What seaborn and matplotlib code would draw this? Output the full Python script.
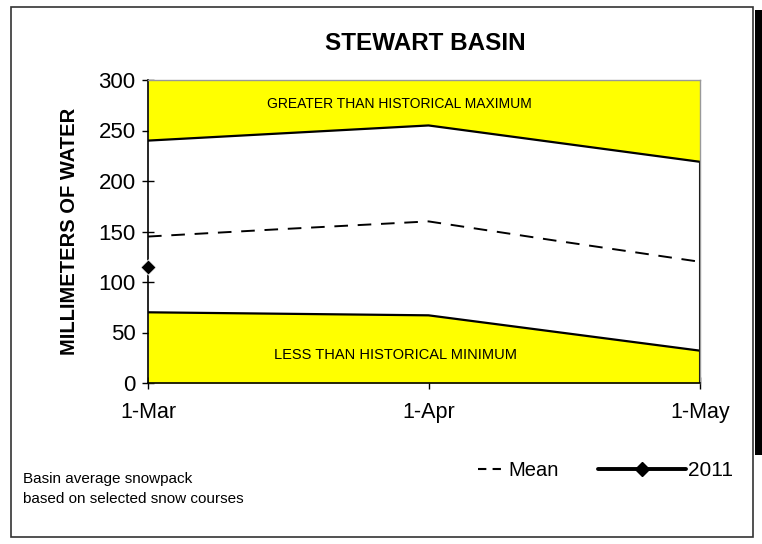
import matplotlib
matplotlib.use('Agg')
import matplotlib.pyplot as plt
import matplotlib.patches as mpatches
from matplotlib.lines import Line2D
import seaborn as sns
import pandas as pd

sns.set_style('white')
plt.rcParams['font.family'] = ['Liberation Sans', 'DejaVu Sans']
plt.rcParams['text.color'] = 'black'
plt.rcParams['axes.labelcolor'] = 'black'

# 数据 (days since 1-Mar)
tick_days = [0, 31, 61]
tick_labels = ['1-Mar', '1-Apr', '1-May']
hist_max = [240, 255, 219]
hist_min = [70, 67, 32]
mean_days = [0, 14, 31, 45, 61]
mean_vals = [145, 152, 160, 141, 120]
obs_days = [0]
obs_vals = [115]

fig = plt.figure(figsize=(7.62, 5.44), dpi=100)
ax = fig.add_axes([148 / 762, 1 - 383 / 544, (700 - 148) / 762, (383 - 80) / 544])

# yellow areas outside historical range
ax.fill_between(tick_days, hist_max, 300, color='#FFFF00', lw=0)
ax.fill_between(tick_days, 0, hist_min, color='#FFFF00', lw=0)

df_max = pd.DataFrame({'day': tick_days, 'val': hist_max})
df_min = pd.DataFrame({'day': tick_days, 'val': hist_min})
df_mean = pd.DataFrame({'day': mean_days, 'val': mean_vals})
df_obs = pd.DataFrame({'day': obs_days, 'val': obs_vals})

sns.lineplot(data=df_max, x='day', y='val', ax=ax, color='black', lw=1.6)
sns.lineplot(data=df_min, x='day', y='val', ax=ax, color='black', lw=1.6)
sns.lineplot(data=df_mean, x='day', y='val', ax=ax, color='black', lw=1.4,
             linestyle=(0, (7, 5)))
sns.scatterplot(data=df_obs, x='day', y='val', ax=ax, color='black', marker='D',
                s=60, zorder=5, clip_on=False)
ax.vlines(tick_days[-1], 0, hist_max[-1], color='black', lw=1.5)

ax.set_xlim(0, 61)
ax.set_ylim(0, 300)
ax.set_xticks(tick_days)
ax.set_xticklabels(tick_labels)
ax.set_yticks(range(0, 301, 50))
ax.tick_params(axis='both', direction='inout', length=8, width=1,
               colors='black', left=True, bottom=True)
ax.tick_params(axis='y', labelsize=16, pad=5)
ax.tick_params(axis='x', labelsize=15.5, pad=10)
ax.set_xlabel('')
ax.set_ylabel('MILLIMETERS OF WATER', fontsize=14.5, fontweight='bold', labelpad=14)

for s in ['left', 'bottom']:
    ax.spines[s].set_color('black')
    ax.spines[s].set_linewidth(1.2)
for s in ['top', 'right']:
    ax.spines[s].set_color('#999999')
    ax.spines[s].set_linewidth(1)

ax.text(27.8, 276, 'GREATER THAN HISTORICAL MAXIMUM', ha='center', va='center', fontsize=10)
ax.text(27.3, 28, 'LESS THAN HISTORICAL MINIMUM', ha='center', va='center', fontsize=10.5)

fig.text(425 / 762, 1 - 43 / 544, 'STEWART BASIN', ha='center', va='center',
         fontsize=17.5, fontweight='bold')

# legend
h_mean = Line2D([], [], color='black', lw=1.5, linestyle=(0, (4, 3)))
h_obs = Line2D([], [], color='black', lw=2.8, marker='D', markersize=7)
fig.legend([h_mean], ['Mean'], loc='center left', bbox_to_anchor=(478 / 762, 1 - 471 / 544),
           frameon=False, fontsize=14.5, handlelength=1.3, handletextpad=0.2,
           borderpad=0, borderaxespad=0)
fig.legend([h_obs], ['2011'], loc='center left', bbox_to_anchor=(598 / 762, 1 - 471 / 544),
           frameon=False, fontsize=15, handlelength=4.2, handletextpad=0.1,
           borderpad=0, borderaxespad=0)

fig.text(23 / 762, 1 - 479 / 544, 'Basin average snowpack', fontsize=11, va='center')
fig.text(23 / 762, 1 - 499 / 544, 'based on selected snow courses', fontsize=11, va='center')

# outer frame
fig.add_artist(mpatches.Rectangle((11 / 762, 1 - 537 / 544), (753 - 11) / 762, (537 - 7) / 544,
                                  transform=fig.transFigure, fill=False, ec='#333333', lw=1.2))
fig.add_artist(mpatches.Rectangle((755 / 762, 1 - 455 / 544), 7 / 762, (455 - 10) / 544,
                                  transform=fig.transFigure, color='black', lw=0))

fig.savefig('out.png', dpi=100)
